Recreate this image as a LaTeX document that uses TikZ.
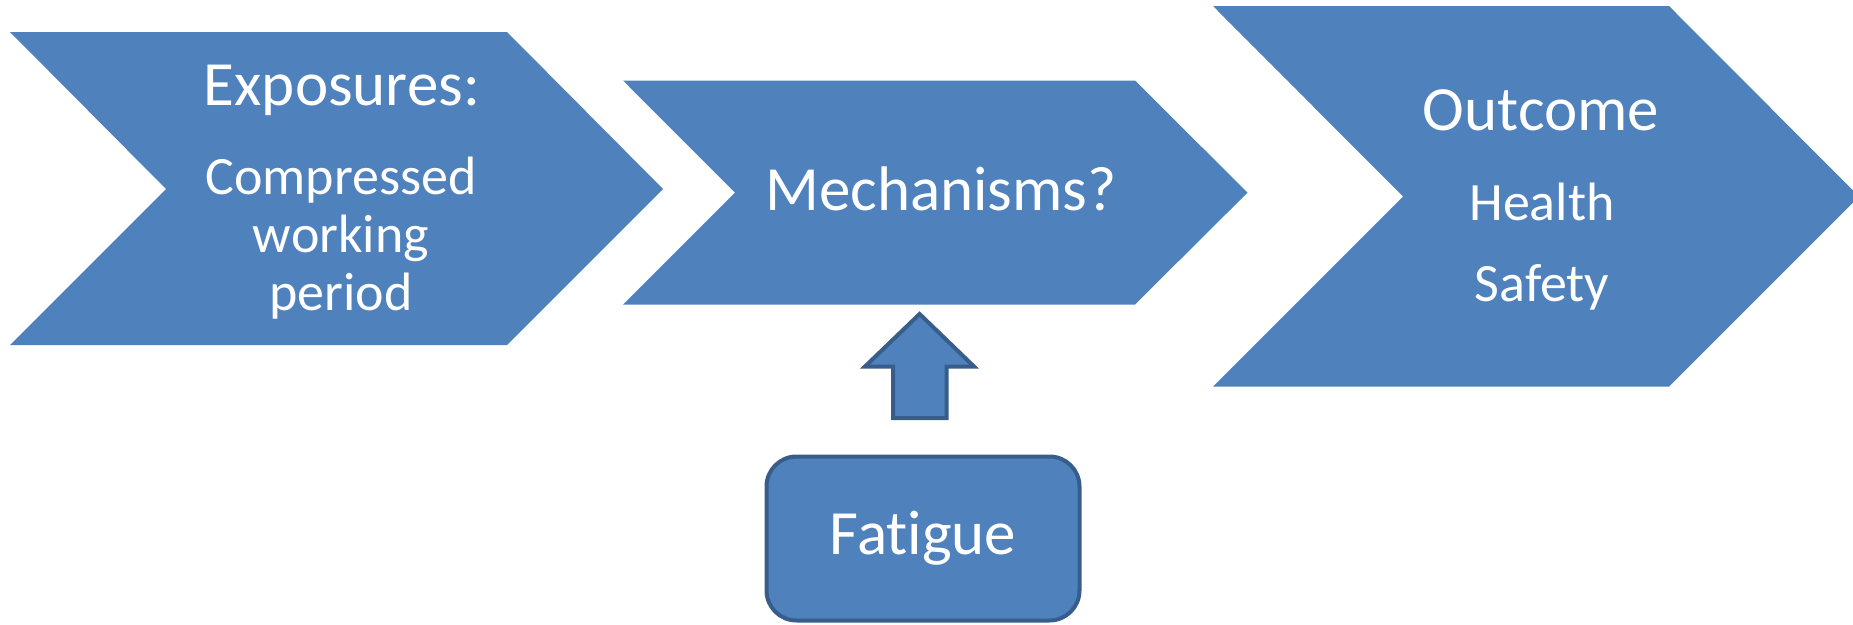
\documentclass[tikz,border=0pt]{standalone}
\usepackage{fontspec}
\setmainfont[Ligatures=NoCommon]{Carlito}
\definecolor{stepblue}{HTML}{4F81BD}
\definecolor{stepline}{HTML}{385D8A}
\tikzset{
  chev/.style={fill=stepblue, draw=none},
  headtext/.style={text=white, anchor=base, inner sep=0pt, font=\fontsize{63}{70}\selectfont},
  bodytext/.style={text=white, anchor=base, inner sep=0pt, font=\fontsize{54}{58}\selectfont},
  fatbox/.style={fill=stepblue, draw=stepline, line width=4pt, rounded corners=30pt,
    minimum width=313pt, minimum height=164pt, inner sep=0pt, text=white,
    font=\fontsize{63}{70}\selectfont}
}

\begin{document}
\begin{tikzpicture}[x=1pt,y=-1pt]
\useasboundingbox (0,0) rectangle (1853,624);
\clip (0,0) rectangle (1853,624);
% chevrons
\fill[chev] (10,32) -- (507,32) -- (663,189) -- (507,345) -- (10,345) -- (166,189) -- cycle;
\fill[chev] (623,80.5) -- (1135,80.5) -- (1247.5,192.6) -- (1135,304.5) -- (623,304.5) -- (735,192.6) -- cycle;
\fill[chev] (1213,6) -- (1669,6) -- (1859,196.5) -- (1669,386.5) -- (1213,386.5) -- (1403,196.5) -- cycle;
% chevron texts
\node[headtext] (expo) at (342,105.7) {Exposures:};
\node[bodytext] (expo1) at (341,194) {Compressed};
\node[bodytext] (expo2) at (341,252) {working};
\node[bodytext] (expo3) at (341,310) {period};
\node[headtext] (mech) at (941,210.7) {Mechanisms?};
\node[headtext] (outc) at (1541,130.7) {Outcome};
\node[bodytext] (outc1) at (1542,220) {Health};
\node[bodytext] (outc2) at (1542,301) {Safety};
% fatigue box and block arrow
\node[fatbox] (fat) at (923,538.5) {Fatigue};
\coordinate (arrtip) at (919.6,314);
\filldraw[fill=stepblue, draw=stepline, line width=4pt]
  (arrtip) -- (974,366.5) -- (946.5,366.5) -- (946.5,418) -- (893,418)
  -- (893,366.5) -- (865,366.5) -- cycle;
\end{tikzpicture}
\end{document}
